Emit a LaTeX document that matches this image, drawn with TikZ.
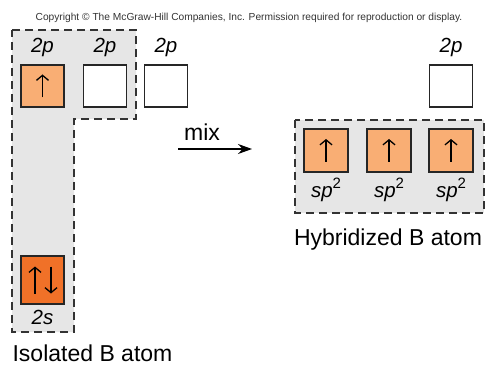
\documentclass[tikz,border=0pt]{standalone}
\usepackage{fontspec}
\setmainfont{Liberation Sans}
\usetikzlibrary{arrows.meta,calc}
\definecolor{lorange}{HTML}{F9AE74}
\definecolor{dorange}{HTML}{F07128}
\definecolor{bggray}{HTML}{E6E6E6}
\definecolor{dashgray}{HTML}{333333}
\tikzset{
  orb/.style={draw=black!85, line width=1.8pt, minimum width=43pt, minimum height=42pt, inner sep=0pt},
  zone/.style={fill=bggray, draw=dashgray, line width=1.5pt, dash pattern=on 8pt off 5pt},
  spin/.style={line width=1.3pt, -{Straight Barb[length=5pt,width=12pt]}},
  lbl/.style={anchor=base, inner sep=0pt, font=\fontsize{20.5}{20.5}\selectfont\itshape},
  big/.style={anchor=base, inner sep=0pt, font=\fontsize{23}{23}\selectfont},
}
\newcommand{\suptwo}{\raisebox{0.42em}{\upshape\fontsize{15}{15}\selectfont 2}}
\begin{document}
\begin{tikzpicture}[x=1pt,y=-1pt]
\useasboundingbox (0,0) rectangle (492,366);
% copyright
\node[anchor=base, inner sep=0pt, font=\fontsize{10.2}{10.2}\selectfont, text=black!80] (copy) at (249,21) {Copyright \textcopyright{} The McGraw-Hill Companies, Inc. Permission required for reproduction or display.};
% zones
\draw[zone] (12,30) -- (136,30) -- (136,119) -- (74,119) -- (74,332) -- (12,332) -- cycle;
\draw[zone] (295,120) rectangle (484,213);
% left orbitals
\node[orb, fill=lorange] (p1) at (42.5,86) {};
\node[orb, fill=white] (p2) at (105,86) {};
\node[orb, fill=white] (p3) at (166,86) {};
\node[orb, fill=dorange, minimum height=48pt] (s) at (42.5,280) {};
\node[lbl] (lp1) at (42.5,53) {2p};
\node[lbl] (lp2) at (105,53) {2p};
\node[lbl] (lp3) at (166,53) {2p};
\node[lbl] (ls) at (42.5,324) {2s};
\draw[spin] ($(p1.center)+(0,11.5)$) -- ($(p1.center)+(0,-11.5)$);
\draw[spin] ($(s.center)+(-7.5,13.5)$) -- ($(s.center)+(-7.5,-13.5)$);
\draw[spin] ($(s.center)+(8.5,-13.5)$) -- ($(s.center)+(8.5,13.5)$);
\node[big] (iso) at (92.5,361) {Isolated B atom};
% mix arrow
\coordinate (ma) at (178,149);
\coordinate (mb) at (252,149);
\draw[line width=1.3pt, -{Stealth[length=14pt,width=10pt]}] (ma) -- (mb);
\node[anchor=base, inner sep=0pt, font=\fontsize{23}{23}\selectfont] (mix) at (202,141) {mix};
% right orbitals
\node[orb, fill=white] (q) at (451,86) {};
\node[lbl] (lq) at (451,53) {2p};
\node[orb, fill=lorange, minimum width=44pt, minimum height=43pt] (h1) at (326,150.5) {};
\node[orb, fill=lorange, minimum width=44pt, minimum height=43pt] (h2) at (389,150.5) {};
\node[orb, fill=lorange, minimum width=44pt, minimum height=43pt] (h3) at (451,150.5) {};
\foreach \h in {h1,h2,h3}{
  \draw[spin] ($(\h.center)+(0,11.5)$) -- ($(\h.center)+(0,-11.5)$);
}
\node[lbl] (l1) at (326,197) {sp\suptwo};
\node[lbl] (l2) at (389,197) {sp\suptwo};
\node[lbl] (l3) at (451,197) {sp\suptwo};
\node[big] (hyb) at (388,245) {Hybridized B atom};
\end{tikzpicture}
\end{document}
